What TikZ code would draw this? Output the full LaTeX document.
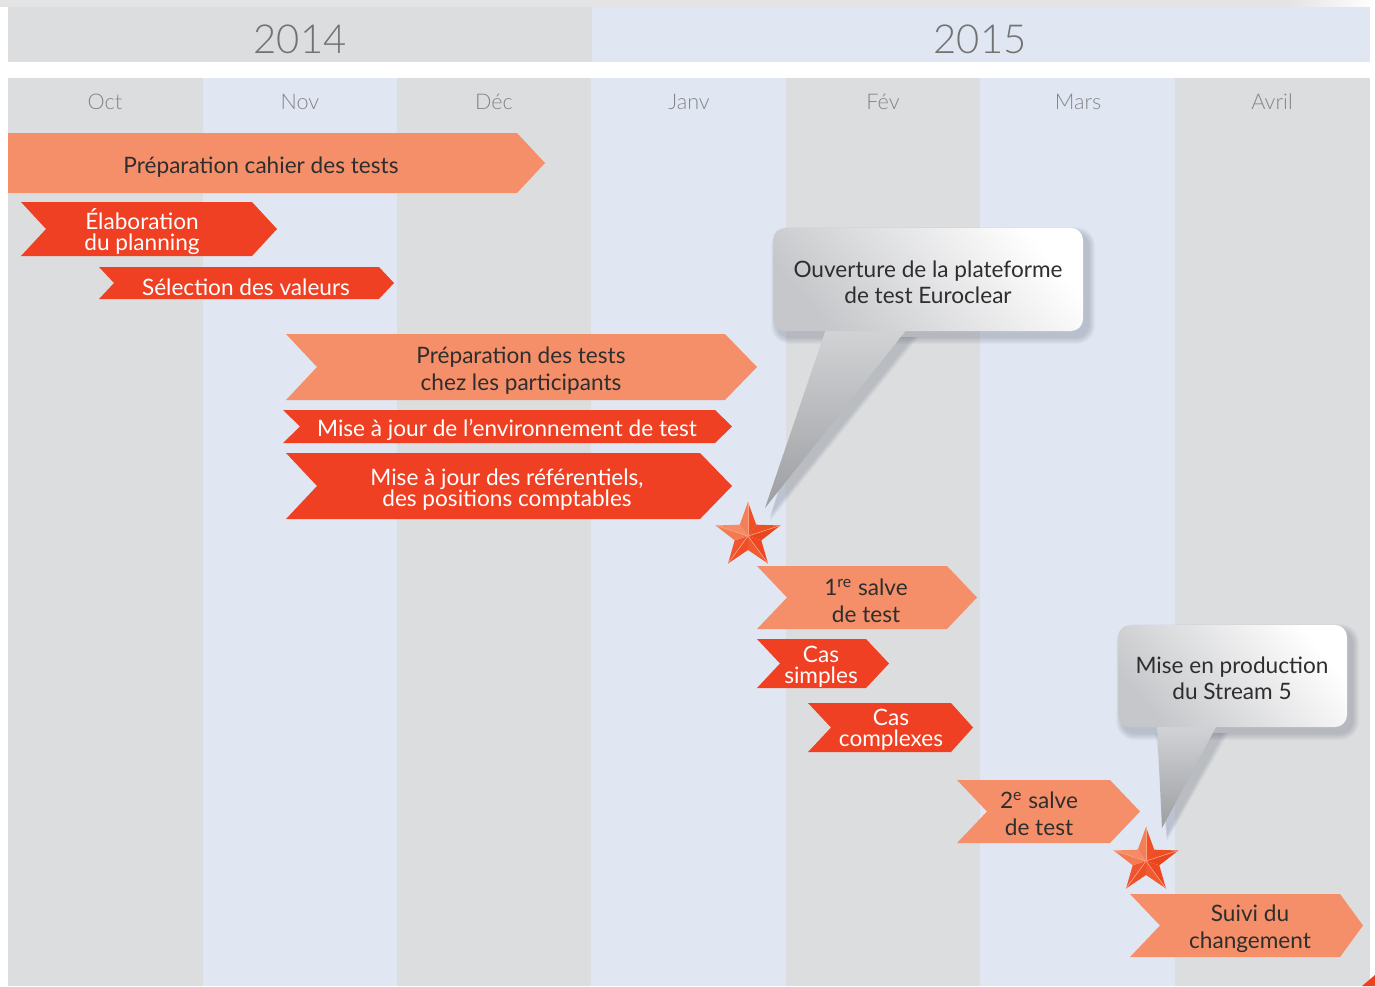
\documentclass[tikz,border=0pt]{standalone}
\usepackage{fontspec}
\setmainfont{Lato}
\newfontfamily\lightfont{Lato Light}
\definecolor{colgray}{HTML}{DCDDDF}
\definecolor{colblue}{HTML}{E0E7F3}
\definecolor{topgray}{HTML}{E3E4E3}
\definecolor{lorange}{HTML}{F58F69}
\definecolor{barred}{HTML}{EF4023}
\definecolor{txtdark}{HTML}{2E2E2E}
\definecolor{yeargray}{HTML}{727272}
\definecolor{monthgray}{HTML}{858585}
\definecolor{calgray}{HTML}{C6C7CA}
\definecolor{shadowc}{HTML}{5A6070}
\definecolor{ptrtop}{HTML}{D2D3D5}
\definecolor{ptrbot}{HTML}{9C9EA2}
\definecolor{sA}{HTML}{F47E58}
\definecolor{sB}{HTML}{EF4E26}
\definecolor{sC}{HTML}{EF4D25}
\definecolor{sD}{HTML}{E94620}
\definecolor{sE}{HTML}{EE4722}
\definecolor{sF}{HTML}{F15A31}
\definecolor{sG}{HTML}{EF4F27}
\definecolor{sH}{HTML}{F05530}
\definecolor{sI}{HTML}{F47A52}
\definecolor{sJ}{HTML}{F68B66}
\definecolor{sEdge}{HTML}{F9A583}
\tikzset{
  lo/.style={fill=lorange},
  rd/.style={fill=barred},
  bartxt/.style={inner sep=0pt, align=center, font=\fontsize{11.3}{13.5}\selectfont},
  darktxt/.style={bartxt, text=txtdark},
  whitetxt/.style={bartxt, text=white},
  tighttxt/.style={inner sep=0pt, align=center, text=white, font=\fontsize{11.3}{10.5}\selectfont},
  yearlbl/.style={inner sep=0pt, text=yeargray, font=\lightfont\fontsize{20}{20}\selectfont},
  monthlbl/.style={inner sep=0pt, text=monthgray, font=\lightfont\fontsize{10.8}{12}\selectfont},
  caltxt/.style={inner sep=0pt, align=center, text=txtdark, font=\fontsize{11.3}{13}\selectfont},
}
\newcommand\chev[7]{\fill[#1] (#2,#6) -- (#4,#6) -- (#5,{(#6+#7)/2}) -- (#4,#7) -- (#2,#7) -- (#3,{(#6+#7)/2}) -- cycle;}
% soft shadow of a callout: #1..#4 rectangle, #5 #6 #7 pointer base left x, tip x, tip y, #8 base right x
\newcommand\calshadow[8]{%
  \foreach \s in {1,2,...,7} {
    \fill[shadowc, opacity=0.045, rounded corners={6pt+\s*0.5pt}]
      ({#1+5-\s},{#2+6-\s}) rectangle ({#3+5+\s},{#4+6+\s});
    \fill[shadowc, opacity=0.04] ({#5+5-\s},{#4+6}) -- ({#6+5},{#7+6+\s}) -- ({#8+5+\s},{#4+6}) -- cycle;
  }
}
\newcommand\facetstar[3]{%
  \coordinate (#1) at (#2,#3);
  \foreach \k/\ca/\cb in {0/sA/sB, 1/sC/sD, 2/sE/sF, 3/sG/sH, 4/sI/sJ} {
    \pgfmathsetmacro\ao{90-72*\k}
    \pgfmathsetmacro\ap{\ao+36}
    \pgfmathsetmacro\am{\ao-36}
    \fill[\ca] (#2,#3) -- ({#2+34*cos(\ao)},{#3-34*sin(\ao)}) -- ({#2+14*cos(\ap)},{#3-14*sin(\ap)}) -- cycle;
    \fill[\cb] (#2,#3) -- ({#2+34*cos(\ao)},{#3-34*sin(\ao)}) -- ({#2+14*cos(\am)},{#3-14*sin(\am)}) -- cycle;
    \draw[sEdge, line width=0.3pt] (#2,#3) -- ({#2+34*cos(\ao)},{#3-34*sin(\ao)});
  }
}
\begin{document}
\begin{tikzpicture}[x=0.5pt,y=-0.5pt]
\useasboundingbox (0,0) rectangle (1375,986);
\fill[white] (0,0) rectangle (1375,986);
% top shadow strip
\fill[topgray] (0,0) rectangle (1290,7);
\shade[left color=topgray, right color=white] (1290,0) rectangle (1375,7);
% year band
\fill[colgray] (8,7) rectangle (592,62);
\fill[colblue] (592,7) rectangle (1370,62);
\node[yearlbl] (y2014) at (300,39) {2014};
\node[yearlbl] (y2015) at (980,39) {2015};
% month columns
\fill[colgray] (8,78) rectangle (203,986);
\fill[colblue] (203,78) rectangle (397,986);
\fill[colgray] (397,78) rectangle (591,986);
\fill[colblue] (591,78) rectangle (786,986);
\fill[colgray] (786,78) rectangle (980,986);
\fill[colblue] (980,78) rectangle (1175,986);
\fill[colgray] (1175,78) rectangle (1370,986);
\node[monthlbl] (m1) at (105,102) {Oct};
\node[monthlbl] (m2) at (300,102) {Nov};
\node[monthlbl] (m3) at (494,102) {Déc};
\node[monthlbl] (m4) at (689,102) {Janv};
\node[monthlbl] (m5) at (883,102) {Fév};
\node[monthlbl] (m6) at (1078,102) {Mars};
\node[monthlbl] (m7) at (1272,102) {Avril};
% bars
\chev{lo}{8}{8}{517}{545}{133}{193}
\node[darktxt] (t1) at (261,167) {Préparation cahier des tests};
\chev{rd}{21}{46}{252}{277}{202}{256}
\node[tighttxt] (t2) at (142,232) {Élaboration\\du planning};
\chev{rd}{99}{114}{379}{394}{267}{299}
\node[whitetxt] (t3) at (246,287) {Sélection des valeurs};
\chev{lo}{286}{317}{725}{757}{334}{400}
\node[darktxt] (t4) at (521,371) {Préparation des tests\\chez les participants};
\chev{rd}{283}{300}{715}{732}{410}{443}
\node[whitetxt] (t5) at (507,430) {Mise à jour de l'environnement de test};
\chev{rd}{286}{317}{700}{732}{453}{519}
\node[tighttxt] (t6) at (507,490) {Mise à jour des référentiels,\\des positions comptables};
\chev{lo}{757}{787}{947}{977}{566}{629}
\node[darktxt] (t7) at (866,601) {1\textsuperscript{re} salve\\de test};
\chev{rd}{757}{780}{866}{889}{639}{688}
\node[tighttxt] (t8) at (821,667) {Cas\\simples};
\chev{rd}{808}{831}{951}{973}{703}{752}
\node[tighttxt] (t9) at (891,730) {Cas\\complexes};
\chev{lo}{957}{987}{1110}{1140}{780}{843}
\node[darktxt] (t10) at (1039,814) {2\textsuperscript{e} salve\\de test};
\chev{lo}{1130}{1160}{1340}{1363}{894}{957}
\node[darktxt] (t11) at (1250,929) {Suivi du\\changement};
% callout 1
\calshadow{773}{228}{1083}{331}{826}{765}{508}{907}
\shade[top color=ptrtop, bottom color=ptrbot] (826,329) -- (765,508) -- (907,329) -- cycle;
\shade[rounded corners=6pt, bottom color=calgray, top color=white, shading angle=-50] (773,228) rectangle (1083,331);
\node[caltxt] (c1) at (928,282) {Ouverture de la plateforme\\de test Euroclear};
% callout 2
\calshadow{1118}{625}{1347}{727}{1157}{1162}{828}{1217}
\shade[top color=ptrtop, bottom color=ptrbot] (1157,725) -- (1162,828) -- (1217,725) -- cycle;
\shade[rounded corners=6pt, bottom color=calgray, top color=white, shading angle=-50] (1118,625) rectangle (1347,727);
\node[caltxt] (c2) at (1232,678) {Mise en production\\du Stream 5};
% stars
\facetstar{st1}{748}{536}
\facetstar{st2}{1146}{861}
% corner mark
\fill[barred] (1362,986) -- (1375,975) -- (1375,986) -- cycle;
\end{tikzpicture}
\end{document}
